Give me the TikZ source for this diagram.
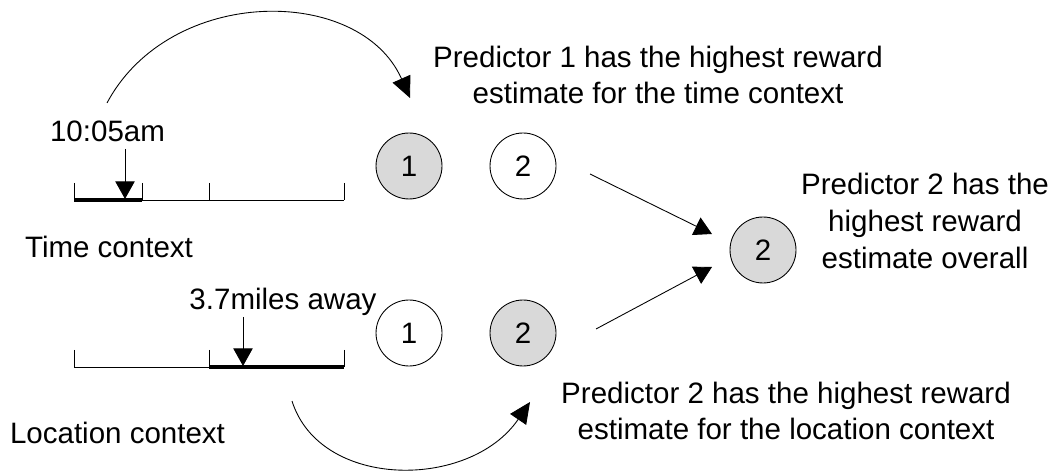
\documentclass[tikz,border=0pt]{standalone}
\usepackage{fontspec}
\setmainfont{Liberation Sans}
\usepackage{xcolor}
\usetikzlibrary{arrows.meta}
\definecolor{grisPred}{HTML}{D9D9D9}
\tikzset{
  pred/.style={circle, draw=black, line width=0.5pt, minimum size=1.32cm,
    inner sep=0pt, font=\fontsize{16.8}{21}\selectfont},
  predOui/.style={pred, fill=grisPred},
  texte/.style={font=\fontsize{16.8}{21}\selectfont, align=center, inner sep=0pt},
  axe/.style={line width=0.5pt},
  axeFort/.style={line width=1.8pt},
  fleche/.style={-{Triangle[length=10pt,width=11pt]}, line width=0.5pt},
  courbe/.style={-{Triangle[length=12pt,width=11pt]}, line width=0.5pt}
}

\begin{document}
\begin{tikzpicture}[x=0.02cm, y=-0.02cm]
  \useasboundingbox (0,0) rectangle (1053,475);

  % --- Contexte temporel
  \draw[axe] (74,200) -- (344,200);
  \foreach \x in {74,142,209,344}
    \draw[axe] (\x,183) -- (\x,200);
  \draw[axeFort] (74,200) -- (142,200);
  \node[texte, anchor=base] (heure) at (107.5,142) {10:05am};
  \coordinate (hTop) at (125,149);
  \coordinate (hBas) at (125,199);
  \draw[fleche] (hTop) -- (hBas);
  \node[texte, anchor=base] (ctxTemps) at (109,258) {Time context};

  % --- Contexte de lieu
  \draw[axe] (74,367) -- (344,367);
  \foreach \x in {74,209,344}
    \draw[axe] (\x,350) -- (\x,367);
  \draw[axeFort] (209,367) -- (344,367);
  \node[texte, anchor=base] (distance) at (283,310) {3.7miles away};
  \coordinate (dTop) at (243,317);
  \coordinate (dBas) at (243,366);
  \draw[fleche] (dTop) -- (dBas);
  \node[texte, anchor=base] (ctxLieu) at (117.5,443) {Location context};

  % --- Predicteurs
  \node[predOui] (t1) at (409,166) {1};
  \node[pred]    (t2) at (523,166) {2};
  \node[pred]    (l1) at (409,333) {1};
  \node[predOui] (l2) at (523,333) {2};
  \node[predOui] (g2) at (763,250) {2};

  % --- Textes
  \node[texte] (txtTemps) at (658,75)
    {Predictor 1 has the highest reward\\estimate for the time context};
  \node[texte] (txtLieu) at (786,411)
    {Predictor 2 has the highest reward\\estimate for the location context};
  \node[texte] (txtTout) at (925,221)
    {Predictor 2 has the\\highest reward\\estimate overall};

  % --- Fleches
  \coordinate (aT) at (107,103);
  \coordinate (bT) at (410,98);
  \draw[courbe] (aT) .. controls (170,-15) and (360,-15) .. (bT);
  \coordinate (aL) at (292,401);
  \coordinate (bL) at (530,402);
  \draw[courbe] (aL) .. controls (320,490) and (470,490) .. (bL);

  \coordinate (s1) at (590,174);
  \coordinate (e1) at (712,234);
  \coordinate (s2) at (596,329);
  \coordinate (e2) at (712,267);
  \draw[fleche] (s1) -- (e1);
  \draw[fleche] (s2) -- (e2);

\end{tikzpicture}
\end{document}
